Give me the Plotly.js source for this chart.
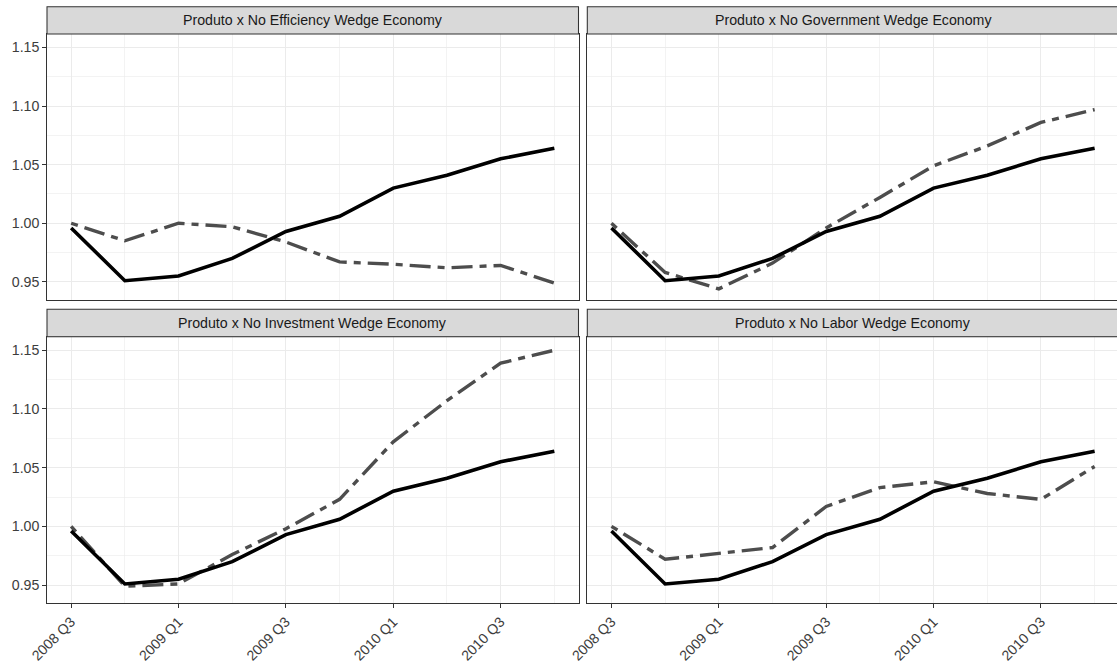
<!DOCTYPE html>
<html>
<head>
<meta charset="utf-8">
<script src="https://cdn.plot.ly/plotly-3.0.1.min.js"></script>
<style>
  html, body { margin: 0; padding: 0; background: #ffffff; overflow: hidden; }
  #chart { width: 1120px; height: 664px; }
</style>
</head>
<body>
<div id="chart"></div>
<script>
// Quarterly output index vs. counterfactual economies (one wedge removed at a time)
const quarters = ["2008 Q3", "2008 Q4", "2009 Q1", "2009 Q2", "2009 Q3",
                  "2009 Q4", "2010 Q1", "2010 Q2", "2010 Q3", "2010 Q4"];

const produto       = [0.996, 0.951, 0.955, 0.970, 0.993, 1.006, 1.030, 1.041, 1.055, 1.064];
const noEfficiency  = [1.000, 0.985, 1.000, 0.997, 0.984, 0.967, 0.965, 0.962, 0.964, 0.949];
const noGovernment  = [1.000, 0.958, 0.944, 0.966, 0.996, 1.022, 1.049, 1.066, 1.086, 1.097];
const noInvestment  = [1.000, 0.949, 0.951, 0.976, 0.998, 1.023, 1.072, 1.107, 1.139, 1.150];
const noLabor       = [1.000, 0.972, 0.977, 0.982, 1.017, 1.033, 1.038, 1.028, 1.023, 1.051];

const panelTitles = [
  "Produto x No Efficiency Wedge Economy",
  "Produto x No Government Wedge Economy",
  "Produto x No Investment Wedge Economy",
  "Produto x No Labor Wedge Economy"
];
const counterfactuals = [noEfficiency, noGovernment, noInvestment, noLabor];

const yMajor = [0.95, 1.00, 1.05, 1.10, 1.15];
const yMinor = [0.975, 1.025, 1.075, 1.125];

// x positions are quarter indices; labels every half year
const xIdx = quarters.map((q, i) => i);
const xMajor = xIdx.filter(i => /Q[13]$/.test(quarters[i]));
const xMinor = xIdx.filter(i => !/Q[13]$/.test(quarters[i]));

// Panel geometry (paper coordinates, width 1120 x height 664)
const W = 1120, H = 664;
const colDom = [[47 / W, 578.5 / W], [587.3 / W, 1118.8 / W]];
const rowDom = [[1 - 300 / H, 1 - 34 / H], [1 - 603.3 / H, 1 - 336.7 / H]];
const stripTop = [1 - 6.7 / H, 1 - 309.3 / H];

const FONT = "'Liberation Sans', Arial, Helvetica, sans-serif";
const FS = 14.2;
const BORDER = "#333333";
const GRID = "#EBEBEB";
const AXIS_TEXT = "#3D3D3D";

const traces = [];
const layout = {
  width: W, height: H,
  margin: { l: 0, r: 0, t: 0, b: 0 },
  paper_bgcolor: "#ffffff",
  plot_bgcolor: "#ffffff",
  showlegend: false,
  font: { family: FONT, size: FS, color: AXIS_TEXT },
  shapes: [],
  annotations: []
};

counterfactuals.forEach((series, k) => {
  const row = Math.floor(k / 2), col = k % 2;
  const n = k + 1;
  const xa = n === 1 ? "x" : "x" + n;
  const ya = n === 1 ? "y" : "y" + n;
  const xKey = n === 1 ? "xaxis" : "xaxis" + n;
  const yKey = n === 1 ? "yaxis" : "yaxis" + n;

  // counterfactual path (two-dash), drawn beneath the output series
  traces.push({
    x: xIdx, y: series, xaxis: xa, yaxis: ya,
    type: "scatter", mode: "lines",
    line: { color: "#4D4D4D", width: 3.4, dash: "7px,7px,21px,7px" },
    hoverinfo: "skip"
  });
  traces.push({
    x: xIdx, y: produto, xaxis: xa, yaxis: ya,
    type: "scatter", mode: "lines",
    line: { color: "#000000", width: 3.6 },
    hoverinfo: "skip"
  });

  const bottomRow = row === 1;
  const leftCol = col === 0;

  layout[xKey] = {
    domain: colDom[col],
    anchor: ya,
    range: [-0.45, 9.45],
    tickmode: "array",
    tickvals: xMajor,
    ticktext: xMajor.map(i => quarters[i]),
    showticklabels: bottomRow,
    ticks: bottomRow ? "outside" : "",
    ticklen: 3.7, tickwidth: 1.07, tickcolor: BORDER,
    tickangle: -45,
    tickfont: { family: FONT, size: FS, color: AXIS_TEXT },
    showgrid: true, gridcolor: GRID, gridwidth: 1.1,
    minor: { tickmode: "array", tickvals: xMinor, showgrid: true,
             gridcolor: GRID, gridwidth: 0.6, ticks: "" },
    zeroline: false,
    showline: true, mirror: true, linecolor: BORDER, linewidth: 1.07,
    fixedrange: true
  };
  layout[yKey] = {
    domain: rowDom[row],
    anchor: xa,
    range: [0.9345, 1.1615],
    tickmode: "array",
    tickvals: yMajor,
    ticktext: yMajor.map(v => v.toFixed(2)),
    showticklabels: leftCol,
    ticks: leftCol ? "outside" : "",
    ticklen: 3.7, tickwidth: 1.07, tickcolor: BORDER,
    tickfont: { family: FONT, size: FS, color: AXIS_TEXT },
    showgrid: true, gridcolor: GRID, gridwidth: 1.1,
    minor: { tickmode: "array", tickvals: yMinor, showgrid: true,
             gridcolor: GRID, gridwidth: 0.6, ticks: "" },
    zeroline: false,
    showline: true, mirror: true, linecolor: BORDER, linewidth: 1.07,
    fixedrange: true
  };

  // facet strip
  layout.shapes.push({
    type: "rect", xref: "paper", yref: "paper",
    x0: colDom[col][0], x1: colDom[col][1],
    y0: rowDom[row][1], y1: stripTop[row],
    fillcolor: "#D9D9D9",
    line: { color: BORDER, width: 1.07 }
  });
  layout.annotations.push({
    xref: "paper", yref: "paper",
    x: (colDom[col][0] + colDom[col][1]) / 2,
    y: (rowDom[row][1] + stripTop[row]) / 2,
    xanchor: "center", yanchor: "middle",
    text: panelTitles[k],
    showarrow: false,
    font: { family: FONT, size: FS, color: "#1A1A1A" }
  });
});

Plotly.newPlot("chart", traces, layout, { displayModeBar: false, staticPlot: true });
</script>
</body>
</html>
